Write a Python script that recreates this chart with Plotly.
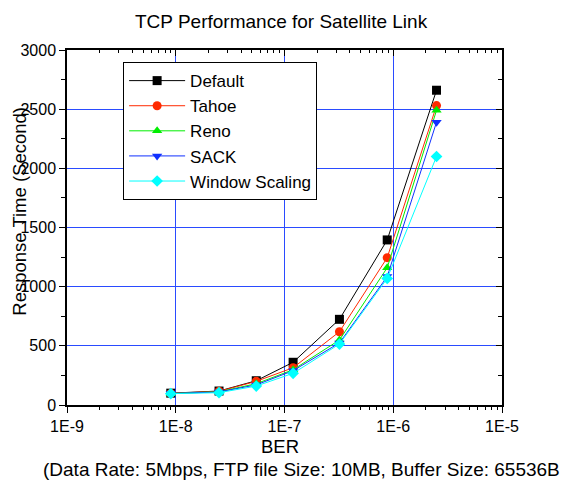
import plotly.graph_objects as go

ber = [9e-9, 2.5e-8, 5.5e-8, 1.2e-7, 3.2e-7, 8.8e-7, 2.5e-6]
default = [100, 118, 205, 361, 724, 1395, 2660]
tahoe = [98, 116, 200, 315, 619, 1245, 2530]
reno = [97, 112, 180, 298, 549, 1160, 2490]
sack = [97, 110, 170, 290, 525, 1085, 2390]
window = [96, 104, 160, 268, 515, 1070, 2100]

series = [
    ("Default", default, "#000000", "square"),
    ("Tahoe", tahoe, "#ff2a00", "circle"),
    ("Reno", reno, "#00ee00", "triangle-up"),
    ("SACK", sack, "#1030ff", "triangle-down"),
    ("Window Scaling", window, "#00ffff", "diamond"),
]

x_ticks = [1e-9, 1e-8, 1e-7, 1e-6, 1e-5]
x_labels = ["1E-9", "1E-8", "1E-7", "1E-6", "1E-5"]
minor_x = [m * 10 ** e for e in range(-9, -5) for m in range(2, 10)]

FONT = "Arial, Liberation Sans, sans-serif"

fig = go.Figure()
for name, vals, col, sym in series:
    fig.add_trace(go.Scatter(
        x=ber, y=vals, name=name, mode="lines+markers",
        line=dict(color=col, width=1),
        marker=dict(symbol=sym, size=9, color=col, line=dict(width=0)),
    ))

# helper trace to show mirrored axes (top/right) with inward ticks
fig.add_trace(go.Scatter(x=[1e-7], y=[0], xaxis="x2", yaxis="y2", mode="markers",
                         marker=dict(opacity=0), showlegend=False, hoverinfo="skip"))

fig.update_layout(
    width=573, height=481,
    margin=dict(l=67, r=71, t=50, b=76),
    paper_bgcolor="white", plot_bgcolor="white",
    font=dict(family=FONT, color="black"),
    showlegend=True,
    xaxis=dict(
        type="log", range=[-9, -5],
        tickmode="array", tickvals=x_ticks, ticktext=x_labels,
        ticks="outside", ticklen=6, tickcolor="black", tickwidth=1,
        showline=True, linecolor="black", linewidth=1.5, mirror=True,
        showgrid=True, gridcolor="#2a4bff", gridwidth=1, zeroline=False,
        tickfont=dict(size=16),
        minor=dict(tickmode="array", tickvals=minor_x, ticks="outside",
                   ticklen=3, tickcolor="black", showgrid=False),
    ),
    yaxis=dict(
        range=[0, 3000], tickmode="linear", tick0=0, dtick=500,
        ticks="outside", ticklen=6, tickcolor="black", tickwidth=1,
        showline=True, linecolor="black", linewidth=1.5, mirror=True,
        showgrid=True, gridcolor="#2a4bff", gridwidth=1, zeroline=False,
        tickfont=dict(size=16),
        minor=dict(dtick=250, ticks="outside", ticklen=4, tickcolor="black",
                   showgrid=False),
    ),
    xaxis2=dict(
        type="log", range=[-9, -5], overlaying="x", side="top", anchor="y",
        tickmode="array", tickvals=x_ticks, showticklabels=False,
        ticks="inside", ticklen=6, tickcolor="black",
        showgrid=False, zeroline=False, showline=False,
        minor=dict(tickmode="array", tickvals=minor_x, ticks="inside",
                   ticklen=3, tickcolor="black", showgrid=False),
    ),
    yaxis2=dict(
        range=[0, 3000], overlaying="y", side="right", anchor="x",
        tickmode="linear", tick0=0, dtick=500, showticklabels=False,
        ticks="inside", ticklen=6, tickcolor="black",
        showgrid=False, zeroline=False, showline=False,
        minor=dict(dtick=250, ticks="inside", ticklen=4, tickcolor="black",
                   showgrid=False),
    ),
    legend=dict(
        x=0.129, y=0.966, xanchor="left", yanchor="top",
        bgcolor="white", bordercolor="black", borderwidth=1,
        font=dict(size=17, family=FONT),
        itemwidth=56,
        tracegroupgap=0,
    ),
    annotations=[
        dict(text="TCP Performance for Satellite Link", xref="paper", yref="paper",
             x=0.492, y=1.079, xanchor="center", yanchor="middle",
             showarrow=False, font=dict(size=19)),
        dict(text="Response Time (Second)", xref="paper", yref="paper",
             x=-0.108, y=0.5445, xanchor="center", yanchor="middle",
             textangle=-90, showarrow=False, font=dict(size=18.5)),
        dict(text="BER", xref="paper", yref="paper",
             x=0.49, y=-0.118, xanchor="center", yanchor="middle",
             showarrow=False, font=dict(size=18.5), borderpad=0),
        dict(text="(Data Rate: 5Mbps, FTP file Size: 10MB, Buffer Size: 65536B",
             xref="paper", yref="paper",
             x=-0.057, y=-0.183, xanchor="left", yanchor="middle",
             showarrow=False, font=dict(size=19), borderpad=0),
    ],
)

fig.write_html("out.html")
